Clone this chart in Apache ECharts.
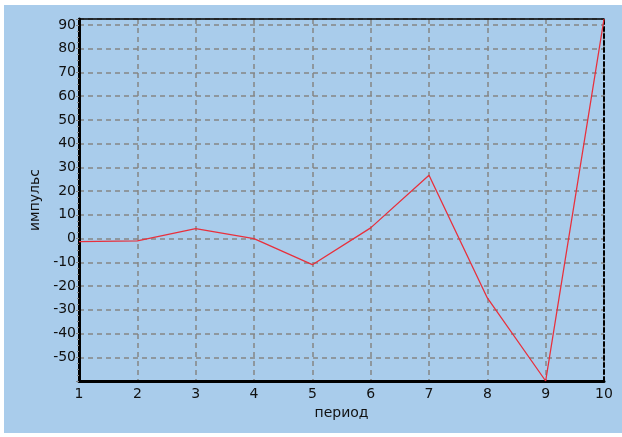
<!DOCTYPE html>
<html>
<head>
<meta charset="utf-8">
<script src="https://cdn.jsdelivr.net/npm/echarts@6/dist/echarts.min.js"></script>
<style>
html,body{margin:0;padding:0;background:#fff;}
#wrap{position:absolute;left:4px;top:5px;width:618px;height:428px;background:#A9CCEB;}
#chart{position:absolute;left:0;top:0;width:622px;height:437px;}
</style>
</head>
<body>
<div id="wrap"></div>
<div id="chart"></div>
<script>
const periods = [1, 2, 3, 4, 5, 6, 7, 8, 9, 10];
const impulse = [-1.3, -1, 4.2, 0, -11, 4.5, 26.7, -25, -60, 92.5];
const xName = 'период';
const yName = 'импульс';

const chart = echarts.init(document.getElementById('chart'));
const font = 'DejaVu Sans';
const gridLine = {show: true, lineStyle: {color: '#858585', type: [5, 4], width: 1.5}};
chart.setOption({
  backgroundColor: 'transparent',
  animation: false,
  grid: {left: 79, right: 18, top: 19, bottom: 56, show: false},
  xAxis: [{
    type: 'value', min: 1, max: 10, interval: 1,
    name: xName, nameLocation: 'middle', nameGap: 25,
    nameTextStyle: {color: '#111', fontFamily: font, fontSize: 14},
    axisLine: {show: true, onZero: false, lineStyle: {color: '#000', width: 3}},
    axisTick: {show: false},
    axisLabel: {color: '#111', fontFamily: font, fontSize: 14, margin: 6},
    splitLine: gridLine
  }, {
    type: 'value', position: 'top', min: 1, max: 10, interval: 1,
    axisLine: {show: true, onZero: false, lineStyle: {color: '#000', width: 1.5}},
    axisTick: {show: false}, axisLabel: {show: false}, splitLine: {show: false}
  }],
  yAxis: [{
    type: 'value', min: -60, max: 92.5, interval: 10,
    name: yName, nameLocation: 'middle', nameGap: 36, nameRotate: 90,
    nameTextStyle: {color: '#111', fontFamily: font, fontSize: 14},
    axisLine: {show: true, onZero: false, lineStyle: {color: '#000', width: 3}},
    axisTick: {show: true, length: 3, lineStyle: {color: '#888'}},
    minorTick: {show: true, splitNumber: 4, length: 2, lineStyle: {color: '#888'}},
    axisLabel: {color: '#111', fontFamily: font, fontSize: 14, margin: 3,
      showMinLabel: false, showMaxLabel: false,
      formatter: v => (Math.abs(v % 10) < 1e-9 ? String(v) : '')},
    splitLine: gridLine
  }, {
    type: 'value', position: 'right', min: -60, max: 92.5,
    axisLine: {show: true, onZero: false, lineStyle: {color: '#000', width: 2, type: [4, 3]}},
    axisTick: {show: false}, axisLabel: {show: false}, splitLine: {show: false}
  }],
  series: [{
    type: 'line',
    data: periods.map((p, i) => [p, impulse[i]]),
    showSymbol: false,
    lineStyle: {color: '#E8303C', width: 1.3},
    z: 5
  }]
});
</script>
</body>
</html>
